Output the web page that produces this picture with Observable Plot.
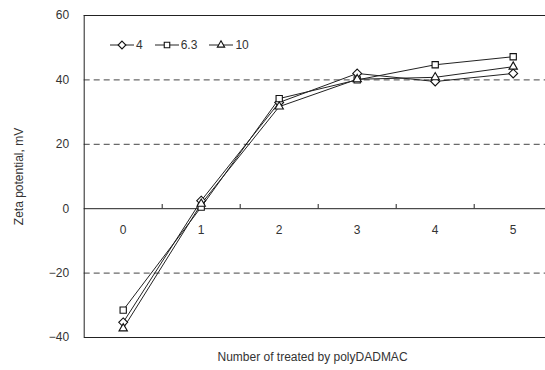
<!DOCTYPE html>
<html>
<head>
<meta charset="utf-8">
<script src="https://cdn.jsdelivr.net/npm/d3@7"></script>
<script src="https://cdn.jsdelivr.net/npm/@observablehq/plot@0.6"></script>
<style>
  html, body { margin: 0; padding: 0; background: #fff; }
  #wrap { position: relative; width: 545px; height: 370px; overflow: hidden; font-family: "Liberation Sans", Arial, sans-serif; }
  #legend { position: absolute; left: 110px; top: 38px; display: flex; align-items: center; font-size: 12px; color: #333; }
  #legend .item { display: flex; align-items: center; margin-right: 12px; }
  #legend svg { display: block; margin-right: 2px; }
</style>
</head>
<body>
<div id="wrap"><div id="legend"></div></div>
<script>
const treatments = [0, 1, 2, 3, 4, 5];
const seriesNames = ["4", "6.3", "10"];
const pH4 = [-35.3, 2.5, 33, 42, 39.5, 42];
const pH63 = [-31.5, 0.5, 34.2, 40, 44.7, 47.2];
const pH10 = [-37.2, 1.5, 31.7, 40.2, 40.8, 44.1];
const yTicks = [-40, -20, 0, 20, 40, 60];
const dashedGrid = [-20, 20, 40];
const solidGrid = [-40, 0, 60];
const symbols = {"4": "diamond2", "6.3": "square2", "10": "triangle2"};

const values = {"4": pH4, "6.3": pH63, "10": pH10};
const data = seriesNames.flatMap(s => treatments.map((t, i) => ({series: s, x: t, y: values[s][i]})));
const boundaries = treatments.slice(0, -1).map(t => t + 0.5);

const textColor = "#333";
const chart = Plot.plot({
  width: 545,
  height: 370,
  marginLeft: 83.7,
  marginRight: 4.7,
  marginTop: 15,
  marginBottom: 33,
  style: {fontFamily: "'Liberation Sans', Arial, sans-serif", fontSize: "12px", color: textColor, background: "#fff"},
  x: {type: "linear", domain: [-0.5, 5.5], range: [83.7, 551.7], axis: null},
  y: {domain: [-40, 60]},
  marks: [
    Plot.ruleY(dashedGrid, {y: d => d, x1: -0.5, x2: 5.5, stroke: "#444", strokeDasharray: "6,4"}),
    Plot.ruleY(solidGrid, {y: d => d, x1: -0.5, x2: 5.5, stroke: "#222"}),
    Plot.ruleX([-0.5], {stroke: "#222"}),
    Plot.ruleX(boundaries, {x: d => d, y1: 0, y2: 1.3, stroke: "#222"}),
    Plot.axisY(yTicks, {tickSize: 0, tickPadding: 15, label: "Zeta potential, mV", labelAnchor: "center", labelArrow: "none", labelOffset: 70, fill: textColor, fontSize: 12}),
    Plot.text(treatments, {x: d => d, y: 0, dy: 21, text: d => String(d), fill: textColor, fontSize: 12}),
    Plot.text(["Number of treated by polyDADMAC"], {frameAnchor: "bottom", dy: 23, text: d => d, fill: textColor, fontSize: 12}),
    Plot.line(data, {x: "x", y: "y", z: "series", stroke: "#222", strokeWidth: 1}),
    Plot.dot(data, {x: "x", y: "y", symbol: d => symbols[d.series], r: 4, fill: "white", stroke: "#111", strokeWidth: 1.1})
  ],
  symbol: {domain: ["diamond2", "square2", "triangle2"], range: ["diamond2", "square2", "triangle2"]}
});
document.getElementById("wrap").prepend(chart);

// legend
const legend = d3.select("#legend");
seriesNames.forEach(s => {
  const item = legend.append("div").attr("class", "item");
  const svg = item.append("svg").attr("width", 24).attr("height", 12);
  svg.append("line").attr("x1", 0).attr("x2", 24).attr("y1", 6).attr("y2", 6).attr("stroke", "#222");
  const sym = {"diamond2": d3.symbolDiamond2, "square2": d3.symbolSquare2, "triangle2": d3.symbolTriangle2}[symbols[s]];
  svg.append("path").attr("d", d3.symbol(sym, Math.PI * 3.5 * 3.5)()).attr("transform", "translate(12,6)")
    .attr("fill", "white").attr("stroke", "#111").attr("stroke-width", 1.1);
  item.append("span").text(s);
});
</script>
</body>
</html>
